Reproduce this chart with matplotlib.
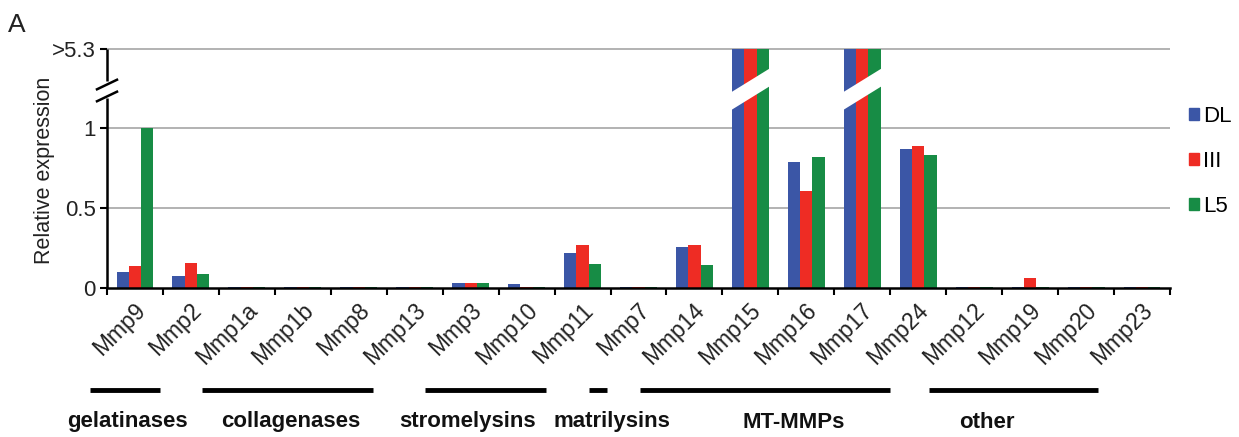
import numpy as np
import matplotlib
matplotlib.use('Agg')
from matplotlib import pyplot as plt
from matplotlib.patches import Polygon, Patch
from matplotlib import transforms

plt.rcParams['font.family'] = ['Liberation Sans', 'DejaVu Sans']

genes = ['Mmp9', 'Mmp2', 'Mmp1a', 'Mmp1b', 'Mmp8', 'Mmp13', 'Mmp3', 'Mmp10', 'Mmp11',
         'Mmp7', 'Mmp14', 'Mmp15', 'Mmp16', 'Mmp17', 'Mmp24', 'Mmp12', 'Mmp19', 'Mmp20', 'Mmp23']
# values above the break are reported only as ">5.3"
DL  = [0.099, 0.072, 0.005, 0.005, 0.005, 0.005, 0.027, 0.025, 0.217, 0.005, 0.252, 5.3, 0.79, 5.3, 0.87, 0.005, 0.005, 0.005, 0.005]
III = [0.136, 0.151, 0.005, 0.005, 0.005, 0.005, 0.027, 0.005, 0.27, 0.005, 0.267, 5.3, 0.604, 5.3, 0.886, 0.005, 0.058, 0.005, 0.005]
L5  = [1.0, 0.084, 0.005, 0.005, 0.005, 0.005, 0.027, 0.005, 0.15, 0.005, 0.142, 5.3, 0.82, 5.3, 0.83, 0.005, 0.005, 0.005, 0.005]
series = {'DL': DL, 'III': III, 'L5': L5}
colors = ['#3b56a6', '#ee2c24', '#178c45']

groups = ['gelatinases', 'collagenases', 'stromelysins', 'matrilysins', 'MT-MMPs', 'other']
group_span = [(-0.80, 0.45), (1.20, 4.26), (5.19, 7.34), (8.12, 8.43), (9.03, 13.49), (14.20, 17.21)]
group_mid = [-0.14, 2.79, 5.94, 8.52, 11.77, 15.22]

cap = 1.5  # display height of the ">5.3" level

fig = plt.figure(figsize=(12.39, 4.37), dpi=100)
W, H = 1239, 437
ax = fig.add_axes([107 / W, (H - 287.5) / H, (1170 - 107) / W, 1.52 * 159.2 / H])

x = np.arange(len(genes))
bw = 0.22
for k, (name, vals) in enumerate(series.items()):
    h = np.minimum(np.array(vals), cap)
    ax.bar(x + (k - 1) * bw, h, bw, color=colors[k], label=name, zorder=2)

# white slanted cut through the capped bars
for i, v in enumerate(DL):
    if v > cap:
        xl, xr = i - 1.5 * bw - 0.03, i + 1.5 * bw + 0.03
        s, yc, hh = 0.217, 1.245, 0.056
        pts = [(xl, yc + s * (xl - i) - hh), (xr, yc + s * (xr - i) - hh),
               (xr, yc + s * (xr - i) + hh), (xl, yc + s * (xl - i) + hh)]
        ax.add_patch(Polygon(pts, closed=True, facecolor='white', edgecolor='none', zorder=3))

ax.set_xlim(-0.5, len(genes) - 0.5)
ax.set_ylim(0, 1.52)
for yv in [0.5, 1.0, cap]:
    ax.axhline(yv, color='#a6a6a6', lw=1.2, zorder=1)

for sp in ['top', 'right', 'left']:
    ax.spines[sp].set_visible(False)
ax.spines['bottom'].set_linewidth(1.8)
ax.spines['bottom'].set_zorder(4)

# broken y axis
ytr = ax.get_yaxis_transform()
ax.plot([0, 0], [0, 1.19], color='black', lw=1.8, transform=ytr, clip_on=False, solid_capstyle='butt')
ax.plot([0, 0], [1.30, cap], color='black', lw=1.8, transform=ytr, clip_on=False, solid_capstyle='butt')
dx = 10 / (1170 - 107)
for yb in [1.20, 1.275]:
    ax.plot([-dx, dx], [yb - 0.03, yb + 0.03], color='black', lw=1.8, transform=ytr, clip_on=False)

ax.set_yticks([0, 0.5, 1, cap])
ax.set_yticklabels(['0', '0.5', '1', '>5.3'])
ax.tick_params(axis='y', length=5, width=1.5, labelsize=16, pad=3, colors='black')
ax.tick_params(axis='y', labelcolor='#222222')

ax.set_xticks(np.arange(-0.5, len(genes)))
ax.set_xticklabels([])
ax.tick_params(axis='x', which='major', length=5, width=1.5, direction='out')
ax.set_xticks(x, genes, minor=True)
ax.tick_params(axis='x', which='minor', length=0, pad=14, labelsize=16.5, labelcolor='#222222')
shift = transforms.ScaledTranslation(5 / 72, 0, fig.dpi_scale_trans)
for lbl in ax.get_xticklabels(minor=True):
    lbl.set_rotation(45)
    lbl.set_ha('right')
    lbl.set_va('center')
    lbl.set_rotation_mode('anchor')
    lbl.set_transform(lbl.get_transform() + shift)

# family groups under the labels
btr = transforms.blended_transform_factory(ax.transData, fig.transFigure)
for name, (a, b), m in zip(groups, group_span, group_mid):
    ax.plot([a, b], [(H - 390) / H] * 2, color='black', lw=3.5, transform=btr, clip_on=False,
            solid_capstyle='butt')
    ax.text(m, (H - 422) / H, name, transform=btr, ha='center', va='center',
            fontsize=16, fontweight='bold', color='#111111')

fig.text(45 / W, (H - 170) / H, 'Relative expression', rotation=90, ha='center', va='center',
         fontsize=15.5, color='#222222')
fig.text(8 / W, (H - 25) / H, 'A', ha='left', va='center', fontsize=19, color='#222222')

handles = [Patch(color=c) for c in colors]
fig.legend(handles, list(series.keys()), loc='upper left', bbox_to_anchor=(1189 / W, (H - 106) / H),
           frameon=False, fontsize=16, handlelength=0.45, handleheight=0.45,
           handletextpad=0.2, labelspacing=1.08, borderpad=0, borderaxespad=0)

fig.savefig('out.png', dpi=100)
